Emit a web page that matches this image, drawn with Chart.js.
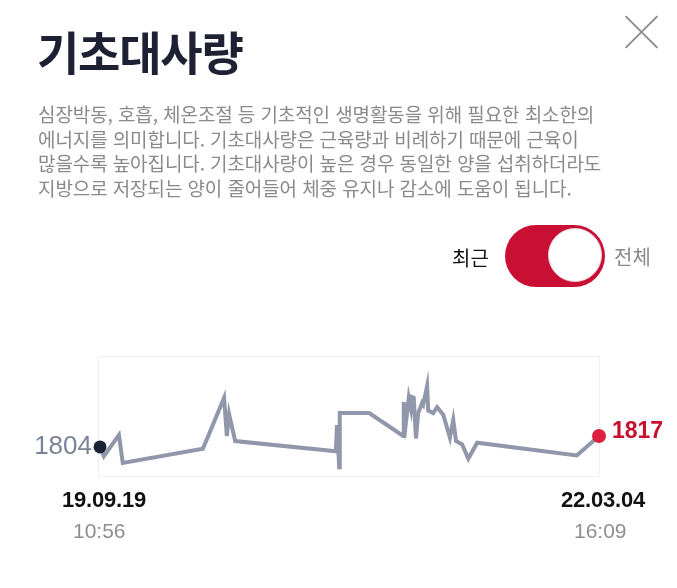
<!DOCTYPE html>
<html lang="ko">
<head>
<meta charset="utf-8">
<script src="https://cdn.jsdelivr.net/npm/chart.js@4"></script>
<style>
  html, body { margin: 0; padding: 0; background: #fff; }
  body { width: 677px; height: 588px; position: relative; overflow: hidden; font-family: "Noto Sans CJK KR", "Noto Sans", sans-serif; }
  #chart { position: absolute; left: 0; top: 0; }
  .abs { position: absolute; white-space: nowrap; }
  #title { left: 37px; top: 21px; font-size: 46px; font-weight: 700; color: #1d2133; letter-spacing: -1.2px; line-height: 1.3; }
  #desc { left: 38px; top: 102px; font-size: 19px; color: #8a8a8a; line-height: 24.6px; letter-spacing: -0.1px; }
  #close { left: 625px; top: 15px; width: 33px; height: 33px; }
  #close:before, #close:after { content: ""; position: absolute; left: -6px; top: 16px; width: 45px; height: 2px; background: #8e8e8e; }
  #close:before { transform: rotate(45deg); }
  #close:after { transform: rotate(-45deg); }
  #recent { left: 452px; top: 243px; font-size: 20px; color: #111; }
  #all { left: 614px; top: 242px; font-size: 20px; color: #8a8a8a; }
  #toggle { left: 505px; top: 225px; width: 100px; height: 62px; border-radius: 31px; background: #c90f34; }
  #knob { position: absolute; left: 43px; top: 3px; width: 54px; height: 54px; border-radius: 50%; background: #fff; border: 1px solid #e8d0d5; box-sizing: border-box; }
  .date { font-family: "Liberation Sans", sans-serif; font-weight: 700; font-size: 22px; color: #111; letter-spacing: -0.2px; }
  .time { font-family: "Liberation Sans", sans-serif; font-size: 21px; color: #8f8f8f; }
</style>
</head>
<body>
<canvas id="chart" width="677" height="588"></canvas>
<div id="title" class="abs">기초대사량</div>
<div id="desc" class="abs">심장박동, 호흡, 체온조절 등 기초적인 생명활동을 위해 필요한 최소한의<br>에너지를 의미합니다. 기초대사량은 근육량과 비례하기 때문에 근육이<br>많을수록 높아집니다. 기초대사량이 높은 경우 동일한 양을 섭취하더라도<br>지방으로 저장되는 양이 줄어들어 체중 유지나 감소에 도움이 됩니다.</div>
<div id="close" class="abs"></div>
<div id="recent" class="abs">최근</div>
<div id="toggle" class="abs"><div id="knob"></div></div>
<div id="all" class="abs">전체</div>
<div class="abs date" style="left:62px; top:487px;">19.09.19</div>
<div class="abs time" style="left:73px; top:519px;">10:56</div>
<div class="abs date" style="left:561px; top:487px;">22.03.04</div>
<div class="abs time" style="left:574px; top:519px;">16:09</div>
<script>
// days since first measurement (19.09.19 10:56)
const dayOffsets = [0, 7, 34, 41, 185, 223, 228, 232, 243, 424, 426, 430, 431, 484, 545, 546, 550, 555, 559, 561, 564, 568, 572, 579, 581, 588, 590, 599, 606, 617, 629, 635, 640, 651, 662, 678, 857, 897];
// basal metabolic rate, kcal
const bmrValues = [1804, 1793, 1818, 1785, 1802, 1862, 1817, 1843, 1811, 1799, 1830, 1780, 1844, 1844, 1817, 1857, 1833, 1862, 1849, 1863, 1862, 1814, 1844, 1856, 1854, 1876, 1847, 1844, 1851, 1842, 1815, 1836, 1811, 1807, 1790, 1809, 1794, 1817];

const points = dayOffsets.map((d, i) => ({ x: d, y: bmrValues[i] }));
const last = points.length - 1;

const frame = {
    id: "frame",
    beforeDatasetsDraw(chart) {
        const a = chart.chartArea;
        const ctx = chart.ctx;
        ctx.save();
        ctx.strokeStyle = "#eef0f3";
        ctx.lineWidth = 1;
        ctx.strokeRect(a.left + 0.5, a.top + 0.5, a.right - a.left - 1, a.bottom - a.top - 1);
        ctx.restore();
    }
};

const endLabels = {
    id: "endLabels",
    afterDatasetsDraw(chart) {
        const meta = chart.getDatasetMeta(0);
        const first = meta.data[0];
        const end = meta.data[last];
        const ctx = chart.ctx;
        ctx.save();
        ctx.textBaseline = "middle";
        ctx.font = "26px 'Liberation Sans'";
        ctx.fillStyle = "#7b8496";
        ctx.textAlign = "right";
        ctx.fillText(String(bmrValues[0]), first.x - 8, first.y);
        ctx.font = "bold 23px 'Liberation Sans'";
        ctx.fillStyle = "#c8102e";
        ctx.textAlign = "left";
        ctx.fillText(String(bmrValues[last]), end.x + 13, end.y - 4);
        ctx.restore();
    }
};

new Chart("chart", {
    type: "line",
    data: {
        datasets: [{
            data: points,
            borderColor: "#9097ab",
            borderWidth: 4,
            tension: 0,
            clip: false,
            pointRadius: points.map((p, i) => (i === 0 ? 6.5 : i === last ? 7 : 0)),
            pointBackgroundColor: points.map((p, i) => (i === 0 ? "#1c2236" : "#dc2240")),
            pointBorderWidth: 0
        }]
    },
    options: {
        responsive: false,
        animation: false,
        events: [],
        layout: { padding: { left: 98, right: 77, top: 356, bottom: 111 } },
        plugins: { legend: { display: false }, tooltip: { enabled: false } },
        scales: {
            x: { type: "linear", min: -3.6, max: 898.8, display: false },
            y: { min: 1768.5, max: 1911.5, display: false }
        }
    },
    plugins: [frame, endLabels]
});
</script>
</body>
</html>
